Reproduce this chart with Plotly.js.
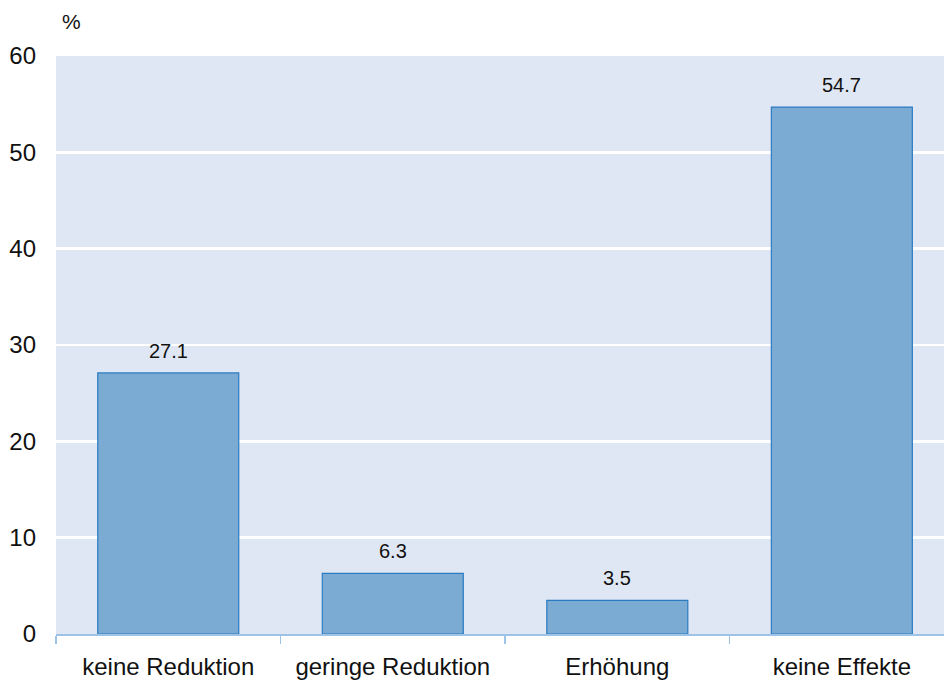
<!DOCTYPE html>
<html>
<head>
<meta charset="utf-8">
<script src="https://cdn.plot.ly/plotly-3.0.1.min.js"></script>
<style>html,body{margin:0;padding:0;background:#fff;}#chart{width:944px;height:683px;}</style>
</head>
<body>
<div id="chart"></div>
<script>
var categories = ["keine Reduktion", "geringe Reduktion", "Erhöhung", "keine Effekte"];
var values = [27.1, 6.3, 3.5, 54.7];
var valueLabels = ["27.1", "6.3", "3.5", "54.7"];
var yTicks = [0, 10, 20, 30, 40, 50, 60];

var FONT = "Liberation Sans, Arial, sans-serif";

var trace = {
  type: "bar",
  x: categories,
  y: values,
  width: 0.628,
  marker: {color: "#7baad3", line: {color: "#2a7cc2", width: 1.2}},
  hoverinfo: "skip",
  cliponaxis: false
};

var annotations = categories.map(function (c, i) {
  return {
    x: c, y: values[i], xref: "x", yref: "y",
    text: valueLabels[i], showarrow: false,
    yanchor: "bottom", yshift: 9,
    font: {family: FONT, size: 20, color: "#111"}
  };
});
annotations.push({
  xref: "paper", yref: "paper", x: 0, y: 1, xanchor: "left", yanchor: "bottom",
  xshift: 4, yshift: 21, text: "%", showarrow: false,
  font: {family: FONT, size: 21, color: "#111"}
});

var layout = {
  width: 944, height: 683,
  margin: {l: 56, r: 0, t: 56, b: 49, pad: 0},
  paper_bgcolor: "#ffffff",
  plot_bgcolor: "#e0e7f4",
  showlegend: false,
  font: {family: FONT, color: "#111"},
  xaxis: {
    type: "category",
    range: [-0.5, 3.455],
    tickson: "boundaries",
    ticks: "outside", ticklen: 8, tickcolor: "#9dc3e6", tickwidth: 1.2,
    showline: true, linecolor: "#9dc3e6", linewidth: 1.5,
    showgrid: false,
    tickfont: {size: 24, color: "#111"},
    ticklabelstandoff: 11
  },
  yaxis: {
    range: [0, 60],
    tickvals: yTicks,
    showgrid: true, gridcolor: "#ffffff", gridwidth: 2.5,
    zeroline: false, showline: false,
    ticks: "", tickfont: {size: 24, color: "#111"},
    ticklabelstandoff: 19
  },
  annotations: annotations
};

Plotly.newPlot("chart", [trace], layout, {displayModeBar: false, staticPlot: true});
</script>
</body>
</html>
